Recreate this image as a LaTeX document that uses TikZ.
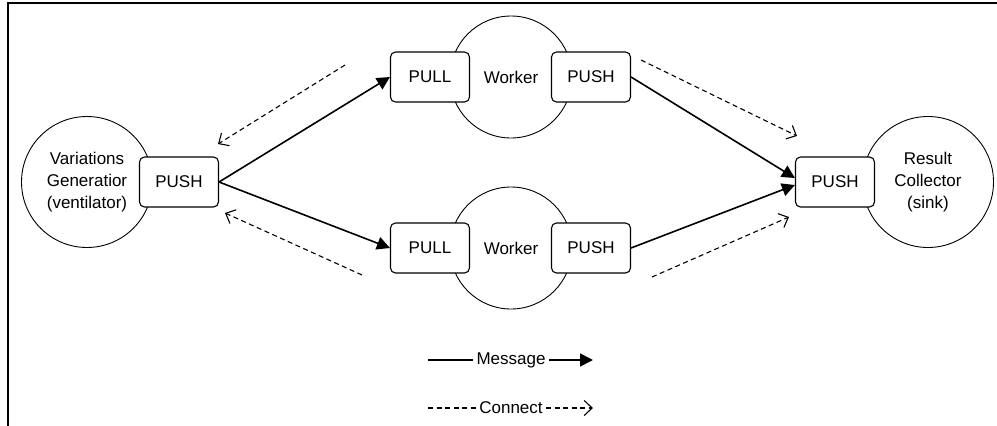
\documentclass[tikz,border=0pt]{standalone}
\usepackage{fontspec}
\setmainfont{Liberation Sans}
\usetikzlibrary{arrows.meta,positioning}

\begin{document}
\begin{tikzpicture}[
  x=1pt, y=-1pt,
  every node/.style={font=\fontsize{17}{22}\selectfont},
  role/.style={circle, draw, line width=0.9pt, minimum size=131pt, inner sep=0pt, align=center},
  sock/.style={draw, fill=white, line width=1.1pt, rounded corners=5pt,
               minimum width=79pt, minimum height=50pt},
  msg/.style={-{Triangle[length=13pt,width=13pt]}, line width=1.6pt},
  conn/.style={-{Straight Barb[length=8pt,width=15pt]}, line width=1.1pt,
               dash pattern=on 5pt off 3.5pt},
]
\useasboundingbox (0,0) rectangle (997,426);

%% ---- Rahmen ----
\draw[line width=2pt] (8,426) -- (8,3) -- (997,3);

%% ---- Ventilator ----
\node[role] at (87,182) (vent) {Variations\\Generatior\\(ventilator)};
\node[sock] at (179,182) (vpush) {PUSH};

%% ---- Worker ----
\node[role, minimum size=122pt] at (511,77)  (w1) {Worker};
\node[sock] at (430,77)  (w1pull) {PULL};
\node[sock] at (591,77)  (w1push) {PUSH};

\node[role, minimum size=122pt] at (511,248) (w2) {Worker};
\node[sock] at (430,248) (w2pull) {PULL};
\node[sock] at (591,248) (w2push) {PUSH};

%% ---- Sink ----
\node[role] at (928,182) (sink) {Result\\Collector\\(sink)};
\node[sock] at (835,182) (spush) {PUSH};

%% ---- Nachrichten ----
\draw[msg] (vpush.east) -- (w1pull.west);
\draw[msg] (vpush.east) -- (w2pull.west);
\draw[msg] (w1push.east) -- ([yshift=4pt]spush.west);
\draw[msg] (w2push.east) -- ([yshift=-3pt]spush.west);

%% ---- Verbindungen ----
\coordinate (c1a) at (345,65);  \coordinate (c1b) at (218,144);
\coordinate (c2a) at (362,275); \coordinate (c2b) at (225,213);
\coordinate (c3a) at (641,60);  \coordinate (c3b) at (797,136);
\coordinate (c4a) at (652,277); \coordinate (c4b) at (789,217);
\draw[conn] (c1a) -- (c1b);
\draw[conn] (c2a) -- (c2b);
\draw[conn] (c3a) -- (c3b);
\draw[conn] (c4a) -- (c4b);

%% ---- Legende ----
\node at (511,360) (lmsg) {Message};
\coordinate (lm1) at (428,360); \coordinate (lm2) at (593,360);
\draw[line width=1.6pt] (lm1) -- (lmsg.west);
\draw[msg] (lmsg.east) -- (lm2);

\node at (511,408) (lcon) {Connect};
\coordinate (lc1) at (428,408); \coordinate (lc2) at (593,408);
\draw[line width=1.1pt, dash pattern=on 5pt off 3.5pt] (lc1) -- (lcon.west);
\draw[conn] (lcon.east) -- (lc2);

\end{tikzpicture}
\end{document}
